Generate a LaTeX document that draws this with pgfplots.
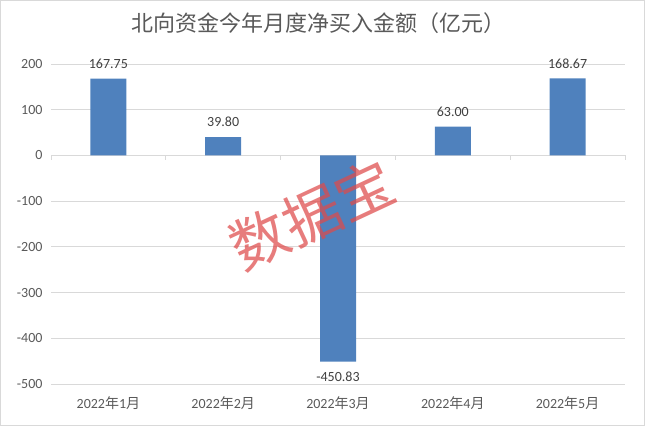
\documentclass[border=0pt]{standalone}
\usepackage{pgfplots}
\pgfplotsset{compat=1.18}
\usepackage{fontspec}
\setmainfont{Carlito}
\newfontfamily\cjk{Noto Sans CJK SC}
\definecolor{barblue}{HTML}{4F81BD}
\definecolor{gridgray}{HTML}{D9D9D9}
\definecolor{txtgray}{HTML}{595959}
\definecolor{lblgray}{HTML}{404040}
\definecolor{wmred}{HTML}{DE4A4A}

\begin{document}
\begin{tikzpicture}
\useasboundingbox (0,0) rectangle (645bp,426bp);
\draw[gridgray, line width=1bp] (0.5bp,0.5bp) rectangle (644.5bp,425.5bp);
\node[txtgray, font=\cjk\fontsize{22bp}{26bp}\selectfont] at (318bp,403bp) {北向资金今年月度净买入金额（亿元）};
\begin{axis}[
    at={(51bp,42bp)}, anchor=south west,
    scale only axis, width=574bp, height=320bp,
    xmin=0.5, xmax=5.5, ymin=-500, ymax=200,
    ytick={-500,-400,...,200},
    xtick={1,...,5},
    xticklabels={2022{\cjk 年}1{\cjk 月},2022{\cjk 年}2{\cjk 月},2022{\cjk 年}3{\cjk 月},2022{\cjk 年}4{\cjk 月},2022{\cjk 年}5{\cjk 月}},
    axis line style={draw=none},
    major tick length=0pt,
    ymajorgrids, grid style={gridgray, line width=0.9bp},
    ybar, bar width=36bp,
    tick label style={txtgray, font=\fontsize{14bp}{16bp}\selectfont},
    yticklabel style={xshift=-5bp},
    xticklabel style={yshift=-9bp},
    /pgf/number format/assume math mode=true,
    nodes near coords={\pgfmathprintnumber[fixed,fixed zerofill,precision=2]{\pgfplotspointmeta}},
    nodes near coords style={lblgray, font=\fontsize{14bp}{16bp}\selectfont, inner ysep=10bp},
    clip=false,
]
\draw[gridgray, line width=0.9bp] (axis cs:0.5,0) -- (axis cs:5.5,0);
\draw[gridgray, line width=0.9bp] (axis cs:0.5,0) -- ([yshift=-5bp]axis cs:0.5,0);
\draw[gridgray, line width=0.9bp] (axis cs:1.5,0) -- ([yshift=-5bp]axis cs:1.5,0);
\draw[gridgray, line width=0.9bp] (axis cs:2.5,0) -- ([yshift=-5bp]axis cs:2.5,0);
\draw[gridgray, line width=0.9bp] (axis cs:3.5,0) -- ([yshift=-5bp]axis cs:3.5,0);
\draw[gridgray, line width=0.9bp] (axis cs:4.5,0) -- ([yshift=-5bp]axis cs:4.5,0);
\draw[gridgray, line width=0.9bp] (axis cs:5.5,0) -- ([yshift=-5bp]axis cs:5.5,0);
\addplot[fill=barblue, draw=none] coordinates {(1,167.75) (2,39.80) (3,-450.83) (4,63.00) (5,168.67)};
\end{axis}
\node[rotate=25, text=wmred, opacity=0.72, font=\cjk\fontsize{58bp}{60bp}\selectfont] at (312bp,211bp) {数据宝};
\end{tikzpicture}
\end{document}
